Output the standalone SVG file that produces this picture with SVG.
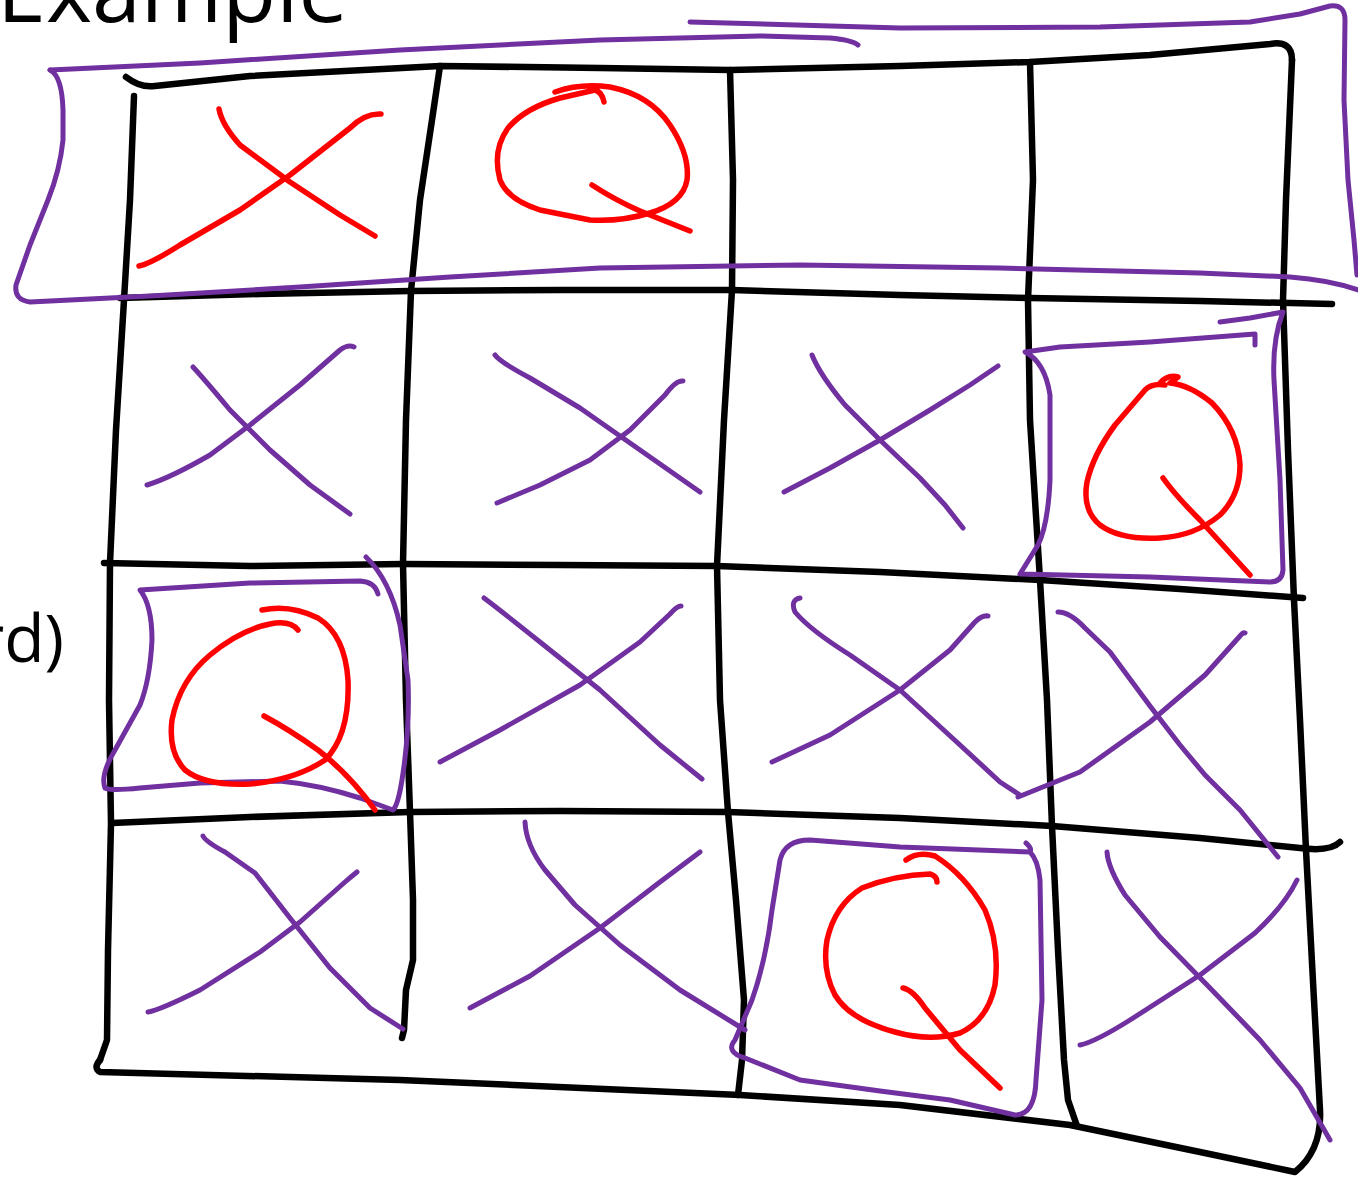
<svg xmlns="http://www.w3.org/2000/svg" width="1358" height="1180" viewBox="0 0 1358 1180">
<style>
.k{fill:none;stroke:#000;stroke-width:6.5;stroke-linecap:round;stroke-linejoin:round}
.p{fill:none;stroke:#7030a0;stroke-width:5;stroke-linecap:round;stroke-linejoin:round}
.r{fill:none;stroke:#ff0000;stroke-width:5.5;stroke-linecap:round;stroke-linejoin:round}
.t{font-family:"Open Sans","Noto Sans",sans-serif;fill:#000}
</style>
<rect width="1358" height="1180" fill="#fff"/>
<text class="t" x="-3" y="22" font-size="88">Example</text>
<text class="t" x="64" y="662" font-size="66" text-anchor="end">rd)</text>
<g id="grid">
<path class="k" d="M126,77 Q140,88 155,86 L250,76 L440,66 L600,68 L730,70 L900,66 L1030,62 L1150,55 L1270,44 Q1292,40 1292,60"/>
<path class="k" d="M1292,60 L1286,200 L1283,300 L1288,450 L1294,600 L1300,720 L1306,850 L1314,1000 L1320,1110 Q1322,1150 1295,1172 L1200,1152 L1070,1125 L900,1105 L740,1095 L400,1080 L100,1072 Q93,1068 100,1060"/>
<path class="k" d="M120,298 L260,294 L410,291 L560,290 L732,290 L900,295 L1030,298 L1200,301 L1332,304"/>
<path class="k" d="M104,563 L250,566 L404,564 L560,565 L717,566 L880,572 L1040,580 L1180,589 L1303,598"/>
<path class="k" d="M112,823 L250,817 L410,812 L560,811 L728,812 L900,818 L1052,826 L1200,838 L1300,848 Q1330,852 1340,842"/>
<path class="k" d="M134,96 L130,200 L124,300 L116,430 L110,563 L109,700 L111,823 L108,950 L107,1040 L100,1060"/>
<path class="k" d="M440,66 L432,120 L420,200 L411,291 L406,420 L403,564 L406,700 L410,812 L413,900 L413,960 L406,990 L404,1030 L402,1038"/>
<path class="k" d="M730,70 L733,180 L732,290 L724,420 L717,566 L720,700 L728,812 L736,900 L744,1000 L742,1060 L738,1095"/>
<path class="k" d="M1030,62 L1033,180 L1028,300 L1030,420 L1040,580 L1047,700 L1052,826 L1058,950 L1064,1060 L1068,1100 L1077,1126"/>
</g>
<g id="row0-highlight">
<path class="p" d="M50,70 L200,63 L400,50 L600,40 L760,36 L830,38 Q852,40 858,45"/>
<path class="p" d="M690,22 L900,28 L1100,27 L1250,22 L1300,14 L1330,6 Q1345,4 1345,20 L1344,100 L1348,180 L1354,240 L1357,275"/>
<path class="p" d="M50,70 Q62,76 63,110 L63,140 Q60,170 48,200 L30,245 L16,285 Q14,300 30,302 L150,296 L300,287 L450,277 L600,268 L800,265 L1000,268 L1200,273 L1290,277 Q1330,280 1358,290"/>
</g>
<g id="cell-0-0">
<path class="r" d="M219,109 Q222,125 240,145 L290,182 L340,215 L375,236"/>
<path class="r" d="M139,266 Q150,264 180,245 L240,210 L290,175 L350,128 Q365,113 381,114"/>
</g>
<g id="cell-0-1">
<path class="r" d="M555,92 Q580,83 610,87 Q650,95 670,125 Q690,155 687,180 Q683,203 650,213 Q620,222 590,220 L540,210 Q508,200 500,180 Q492,150 508,128 Q525,108 560,98 L595,90 Q602,92 604,102"/>
<path class="r" d="M592,185 Q615,200 640,211 L690,231"/>
</g>
<g id="cell-1-0">
<path class="p" d="M193,367 Q205,380 230,410 L270,450 L310,485 L350,514"/>
<path class="p" d="M147,485 Q170,478 210,455 L250,425 L300,385 L340,350 Q348,344 354,347"/>
</g>
<g id="cell-1-1">
<path class="p" d="M495,355 Q500,362 530,378 L580,408 L640,450 L700,492"/>
<path class="p" d="M497,503 L540,485 L590,460 L630,430 L665,395 Q676,380 683,381"/>
</g>
<g id="cell-1-2">
<path class="p" d="M812,355 Q820,375 845,405 L880,440 L920,478 L945,505 L963,528"/>
<path class="p" d="M784,492 L830,468 L880,440 L930,410 L970,385 L998,366"/>
</g>
<g id="cell-1-3">
<path class="p" d="M1255,345 L1255,334 L1150,342 L1060,347 L1025,352 Q1045,362 1050,395 L1050,480 Q1048,525 1038,545 L1020,574 L1150,577 L1270,582 Q1282,582 1283,570 L1280,480 L1274,380 Q1272,340 1283,312 L1250,318 L1220,322"/>
<path class="r" d="M1160,383 Q1168,374 1178,377 L1170,383 Q1190,385 1212,403 Q1238,430 1240,465 Q1240,495 1220,515 Q1195,536 1160,538 Q1120,540 1100,525 Q1082,510 1087,482 Q1093,455 1115,425 L1145,390 Q1152,383 1165,385"/>
<path class="r" d="M1163,478 Q1175,495 1200,520 L1250,575"/>
</g>
<g id="cell-2-0">
<path class="p" d="M378,594 Q375,582 360,581 L250,583 L140,590 Q152,605 152,640 Q150,680 140,705 L115,750 Q100,775 105,788 Q110,791 140,788 L200,783 L280,781 Q320,785 360,798 L393,810 Q398,805 402,780 Q410,730 408,680 L400,625 Q390,580 366,557"/>
<path class="r" d="M262,610 Q290,604 318,618 Q345,635 348,680 Q350,735 325,760 Q295,780 250,784 Q205,786 185,770 Q168,752 172,720 Q180,680 210,655 Q240,630 270,624 Q290,620 298,630"/>
<path class="r" d="M264,716 Q290,730 318,750 Q350,775 375,810"/>
</g>
<g id="cell-2-1">
<path class="p" d="M484,598 Q500,610 540,642 L600,690 L660,745 L702,779"/>
<path class="p" d="M440,762 L500,730 L580,685 L640,642 L670,614 Q677,606 681,606"/>
</g>
<g id="cell-2-2">
<path class="p" d="M800,598 Q790,600 795,612 Q810,630 850,655 L900,690 L960,745 L1000,782 L1020,795"/>
<path class="p" d="M772,762 L830,735 L900,690 L950,650 L975,622 Q982,615 988,616"/>
</g>
<g id="cell-2-3">
<path class="p" d="M1058,612 Q1070,612 1085,628 L1110,652 L1150,706 L1180,745 L1205,775 L1240,810 L1278,857"/>
<path class="p" d="M1018,797 L1080,772 L1150,722 L1205,675 L1240,636 Q1243,632 1245,633"/>
</g>
<g id="cell-3-0">
<path class="p" d="M203,836 Q206,842 225,852 L255,873 L290,918 L330,968 L370,1008 L403,1029"/>
<path class="p" d="M148,1012 Q160,1010 200,990 L260,952 L300,922 L345,882 Q352,876 357,872"/>
</g>
<g id="cell-3-1">
<path class="p" d="M525,822 Q526,845 545,870 L575,905 L620,945 L680,990 L745,1030"/>
<path class="p" d="M470,1008 L530,976 L600,928 L660,882 L700,852"/>
</g>
<g id="cell-3-2">
<path class="p" d="M1026,843 Q1032,848 1030,852 L900,847 L810,840 Q785,840 780,860 L772,910 Q766,960 752,1000 L735,1040 Q725,1052 745,1058 L800,1080 L880,1091 L950,1100 L1015,1115 Q1035,1115 1036,1080 L1042,1000 L1040,880 Q1038,860 1030,852"/>
<path class="r" d="M906,860 Q918,851 935,856 Q965,875 985,910 Q1000,945 995,985 Q988,1020 960,1033 Q930,1042 895,1032 Q850,1020 835,995 Q822,970 827,940 Q835,905 862,888 Q895,875 930,874 Q937,876 937,882"/>
<path class="r" d="M903,988 Q913,990 925,1008 L960,1050 L1000,1088"/>
</g>
<g id="cell-3-3">
<path class="p" d="M1107,852 Q1108,868 1125,895 L1160,937 L1210,988 L1260,1040 L1300,1088 L1330,1140"/>
<path class="p" d="M1080,1045 Q1095,1042 1130,1020 L1200,975 L1255,933 Q1285,905 1297,880"/>
</g>
</svg>
